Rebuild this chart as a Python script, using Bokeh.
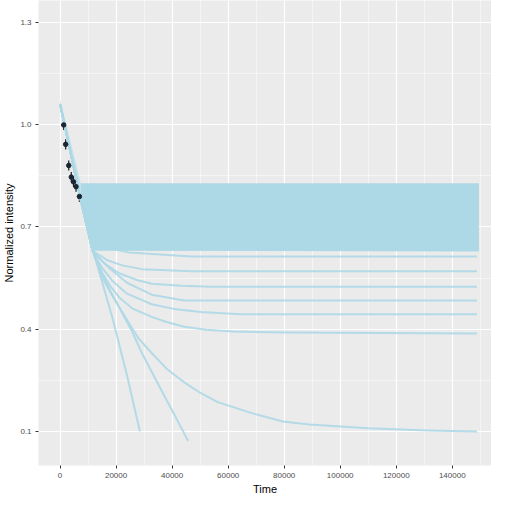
from bokeh.plotting import figure
from bokeh.models import Range1d, FixedTicker, Whisker, ColumnDataSource
from bokeh.embed import file_html
from bokeh.resources import INLINE

# ---- data ----
pt_time = [1300, 2000, 3100, 4000, 4800, 5700, 6900]
pt_int = [0.999, 0.942, 0.880, 0.846, 0.832, 0.818, 0.789]
pt_err = [0.015, 0.015, 0.015, 0.015, 0.015, 0.015, 0.015]

start_t = [0, 7400]
start_hi = [1.075, 0.828]
start_lo = [1.045, 0.779]

band_t = [7400, 9000, 10500, 11600, 149500]
band_hi = [0.828, 0.828, 0.828, 0.828, 0.828]
band_lo = [0.779, 0.720, 0.660, 0.630, 0.628]

curve_a_t = [0, 7400, 11600, 18600, 23900, 28500]
curve_a_y = [1.060, 0.779, 0.636, 0.436, 0.264, 0.100]

curve_b_t = [0, 7400, 11600, 14100, 17900, 22200, 25700, 29200, 33400, 38000, 41900, 45700]
curve_b_y = [1.060, 0.779, 0.630, 0.579, 0.513, 0.447, 0.393, 0.330, 0.264, 0.192, 0.132, 0.072]

curve_c_t = [0, 7400, 11600, 13400, 15100, 18600, 23900, 28100, 32700, 38000, 44300, 50300,
             56300, 62600, 67900, 79500, 89000, 110100, 131200, 148800]
curve_c_y = [1.060, 0.779, 0.630, 0.590, 0.550, 0.499, 0.427, 0.372, 0.330, 0.284, 0.244, 0.212,
             0.186, 0.169, 0.155, 0.129, 0.120, 0.109, 0.103, 0.100]

curve_d_t = [0, 7400, 11600, 13400, 15100, 17900, 21100, 25700, 32700, 38000, 44300, 52100, 61900, 82000, 148800]
curve_d_y = [1.060, 0.779, 0.630, 0.596, 0.564, 0.527, 0.493, 0.461, 0.436, 0.421, 0.407, 0.398, 0.393, 0.390, 0.387]

curve_e_t = [0, 7400, 11600, 13400, 15100, 18600, 23900, 32700, 41500, 50300, 64400, 148800]
curve_e_y = [1.060, 0.779, 0.630, 0.602, 0.579, 0.542, 0.504, 0.473, 0.458, 0.450, 0.444, 0.444]

curve_f_t = [0, 7400, 11600, 14400, 17600, 23900, 32700, 44300, 148800]
curve_f_y = [1.060, 0.779, 0.630, 0.605, 0.579, 0.536, 0.501, 0.484, 0.484]

curve_g_t = [0, 7400, 11600, 15800, 21100, 27400, 32700, 43300, 53800, 148800]
curve_g_y = [1.060, 0.779, 0.630, 0.593, 0.564, 0.544, 0.533, 0.527, 0.524, 0.524]

curve_h_t = [0, 7400, 11600, 16900, 22200, 29200, 46800, 148800]
curve_h_y = [1.060, 0.779, 0.630, 0.602, 0.587, 0.576, 0.570, 0.570]

curve_i_t = [0, 7400, 10200, 15100, 24600, 46800, 148800]
curve_i_y = [1.060, 0.779, 0.679, 0.642, 0.625, 0.613, 0.613]

x_ticks = [0, 20000, 40000, 60000, 80000, 100000, 120000, 140000]
y_ticks = [0.1, 0.4, 0.7, 1.0, 1.3]

LB = "#add8e6"

p = figure(width=491, height=497, output_backend="svg", toolbar_location=None,
           x_range=Range1d(-7700, 154000), y_range=Range1d(0.0, 1.364),
           background_fill_color="#EBEBEB", border_fill_color="white",
           min_border_left=37, min_border_right=0, min_border_top=0, min_border_bottom=5)
p.outline_line_color = None

p.varea(x=start_t, y1=start_lo, y2=start_hi, fill_color=LB, fill_alpha=0.6)
p.varea(x=band_t, y1=band_lo, y2=band_hi, fill_color=LB, fill_alpha=1.0)

for t, y in [(curve_a_t, curve_a_y), (curve_b_t, curve_b_y), (curve_c_t, curve_c_y),
             (curve_d_t, curve_d_y), (curve_e_t, curve_e_y), (curve_f_t, curve_f_y),
             (curve_g_t, curve_g_y), (curve_h_t, curve_h_y), (curve_i_t, curve_i_y)]:
    p.line(t, y, line_color=LB, line_width=2, line_alpha=0.9, line_join="round")

src = ColumnDataSource(dict(t=pt_time, y=pt_int,
                            lo=[a - b for a, b in zip(pt_int, pt_err)],
                            hi=[a + b for a, b in zip(pt_int, pt_err)]))
p.add_layout(Whisker(source=src, base="t", lower="lo", upper="hi",
                     line_color="#1a1a1a", line_width=1.2,
                     upper_head=None, lower_head=None))
p.scatter("t", "y", source=src, size=4.5, color="#1a2633")

p.xaxis.ticker = FixedTicker(ticks=x_ticks, minor_ticks=[-10000] + [10000 + 20000 * i for i in range(8)])
p.yaxis.ticker = FixedTicker(ticks=y_ticks, minor_ticks=[-0.05, 0.25, 0.55, 0.85, 1.15])
p.xaxis.major_label_overrides = {v: str(v) for v in x_ticks}
p.yaxis.major_label_overrides = {v: f"{v:.1f}" for v in y_ticks}

p.xgrid.grid_line_color = "white"
p.ygrid.grid_line_color = "white"
p.xgrid.grid_line_width = 1.2
p.ygrid.grid_line_width = 1.2
p.xgrid.minor_grid_line_color = "white"
p.ygrid.minor_grid_line_color = "white"
p.xgrid.minor_grid_line_width = 0.5
p.ygrid.minor_grid_line_width = 0.5

for ax in (p.xaxis, p.yaxis):
    ax.axis_line_color = None
    ax.major_tick_line_color = "#333333"
    ax.major_tick_in = 0
    ax.major_tick_out = 3
    ax.minor_tick_line_color = None
    ax.major_label_text_font = "Liberation Sans"
    ax.major_label_text_font_size = "8px"
    ax.major_label_text_color = "#4D4D4D"
    ax.major_label_standoff = 3
    ax.axis_label_text_font = "Liberation Sans"
    ax.axis_label_text_font_size = "11px"
    ax.axis_label_text_font_style = "normal"
    ax.axis_label_text_color = "black"
    ax.axis_label_standoff = 2

p.xaxis.axis_label = "Time"
p.yaxis.axis_label = "Normalized intensity"

open("out.html", "w").write(file_html(p, INLINE))
